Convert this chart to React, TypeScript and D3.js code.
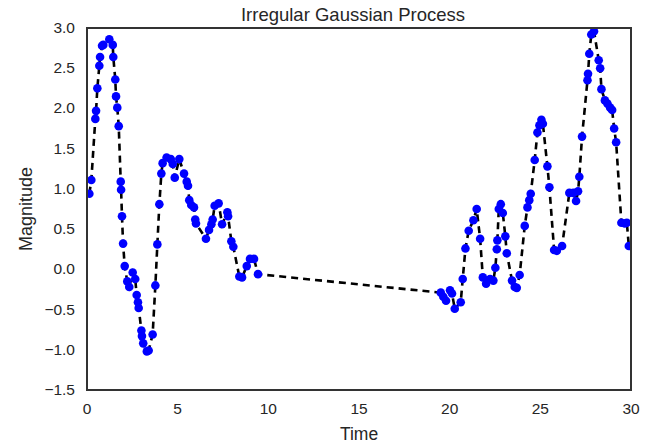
import React from "react";
import * as d3 from "d3";

const times = [
  0.13, 0.24, 0.46, 0.5, 0.57, 0.68, 0.72, 0.83, 0.9, 1.23, 1.42, 1.45, 1.56, 1.6, 1.67, 1.75,
  1.86, 1.88, 1.93, 1.99, 2.08, 2.22, 2.33, 2.52, 2.66, 2.74, 2.81, 2.85, 3.0, 3.03, 3.1, 3.3,
  3.4, 3.62, 3.77, 3.88, 3.99, 4.1, 4.17, 4.39, 4.62, 4.73, 4.84, 5.09, 5.35, 5.5, 5.57, 5.64,
  5.75, 5.9, 5.97, 6.01, 6.56, 6.73, 6.86, 6.93, 7.04, 7.26, 7.45, 7.74, 7.78, 7.96, 8.07, 8.4,
  8.55, 8.81, 8.99, 9.21, 9.43,
  19.51, 19.65, 19.8, 20.02, 20.13, 20.28, 20.61, 20.72, 20.87, 21.05, 21.31, 21.49, 21.68,
  21.83, 22.01, 22.23, 22.41, 22.52, 22.6, 22.63, 22.71, 22.82, 22.93, 23.07, 23.15, 23.44,
  23.59, 23.7, 23.86, 24.14, 24.29, 24.39, 24.47, 24.69, 24.84, 24.95, 25.06, 25.14, 25.39,
  25.5, 25.76, 25.91, 26.2, 26.6, 26.82, 26.97, 27.08, 27.15, 27.3, 27.6, 27.63, 27.7, 27.81,
  27.96, 28.22, 28.3, 28.37, 28.56, 28.7, 28.85, 28.96, 29.07, 29.18, 29.47, 29.66, 29.77, 29.88,
];

const magnitudes = [
  0.94, 1.11, 1.87, 1.97, 2.25, 2.53, 2.64, 2.78, 2.79, 2.86, 2.79, 2.64, 2.36, 2.15, 2.01, 1.78,
  1.09, 0.99, 0.66, 0.32, 0.04, -0.15, -0.22, -0.04, -0.12, -0.32, -0.41, -0.48, -0.76, -0.83, -0.92, -1.02,
  -1.01, -0.81, -0.2, 0.31, 0.81, 1.19, 1.32, 1.39, 1.37, 1.31, 1.14, 1.37, 1.19, 1.09, 1.04, 0.86,
  0.8, 0.77, 0.62, 0.57, 0.38, 0.49, 0.56, 0.62, 0.79, 0.82, 0.56, 0.71, 0.66, 0.35, 0.28, -0.09,
  -0.1, 0.04, 0.13, 0.13, -0.06,
  -0.29, -0.34, -0.39, -0.26, -0.3, -0.49, -0.41, -0.12, 0.26, 0.48, 0.61, 0.75, 0.38,
  -0.1, -0.18, -0.12, -0.14, 0.02, 0.25, 0.36, 0.75, 0.81, 0.7, 0.41, 0.2, -0.14,
  -0.22, -0.23, -0.07, 0.54, 0.77, 0.86, 0.94, 1.36, 1.7, 1.79, 1.86, 1.81, 1.28,
  1.02, 0.24, 0.23, 0.29, 0.95, 0.95, 0.85, 0.97, 1.15, 1.65, 2.35, 2.43, 2.68, 2.92,
  2.96, 2.6, 2.5, 2.24, 2.1, 2.06, 2.01, 1.98, 1.75, 1.58, 0.58, 0.57, 0.58, 0.29,
];

const xTicks = [0, 5, 10, 15, 20, 25, 30];
const yTicks = [-1.5, -1.0, -0.5, 0.0, 0.5, 1.0, 1.5, 2.0, 2.5, 3.0];

const W = 654;
const H = 443;
const left = 87;
const right = 631;
const top = 28;
const bottom = 390;

export default function App() {
  const x = d3.scaleLinear().domain([0, 30]).range([left, right]);
  const y = d3.scaleLinear().domain([-1.5, 3.0]).range([bottom, top]);
  const pts = times.map((t, i) => [t, magnitudes[i]] as [number, number]);
  const line = d3
    .line<[number, number]>()
    .x((d) => x(d[0]))
    .y((d) => y(d[1]));
  const font = "'Liberation Sans', Arial, sans-serif";
  const fmtY = (v: number) => (v < 0 ? "\u2212" + Math.abs(v).toFixed(1) : v.toFixed(1));
  return (
    <svg
      width={W}
      height={H}
      style={{ position: "absolute", left: 0, top: 0, background: "#fff" }}
      fontFamily={font}
    >
      <defs>
        <clipPath id="plotclip">
          <rect x={left} y={top} width={right - left} height={bottom - top} />
        </clipPath>
      </defs>
      <g clipPath="url(#plotclip)">
        <path
          d={line(pts) || ""}
          fill="none"
          stroke="#000"
          strokeWidth={2.6}
          strokeDasharray="7,5"
        />
        {pts.map((d, i) => (
          <circle key={i} cx={x(d[0])} cy={y(d[1])} r={4.3} fill="#0000ff" />
        ))}
      </g>
      <rect
        x={left}
        y={top}
        width={right - left}
        height={bottom - top}
        fill="none"
        stroke="#333"
        strokeWidth={2}
      />
      {xTicks.map((t) => (
        <text key={t} x={x(t)} y={bottom + 24} textAnchor="middle" fontSize={15.5} fill="#262626">
          {t}
        </text>
      ))}
      {yTicks.map((t) => (
        <text key={t} x={left - 12} y={y(t) + 5} textAnchor="end" fontSize={15.5} fill="#262626">
          {fmtY(t)}
        </text>
      ))}
      <text x={(left + right) / 2} y={440} textAnchor="middle" fontSize={17.5} fill="#262626">
        Time
      </text>
      <text
        transform={`translate(32,${(top + bottom) / 2}) rotate(-90)`}
        textAnchor="middle"
        fontSize={18}
        fill="#262626"
      >
        Magnitude
      </text>
      <text x={(left + right) / 2 - 6} y={21} textAnchor="middle" fontSize={18.5} fill="#262626">
        Irregular Gaussian Process
      </text>
    </svg>
  );
}
